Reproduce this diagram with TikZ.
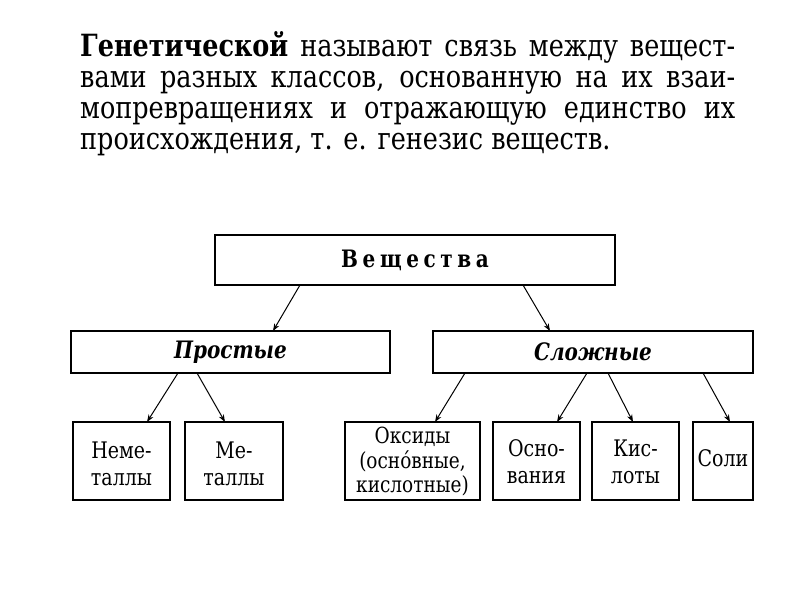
\documentclass[tikz,border=0pt]{standalone}
\usepackage{fontspec}
\setmainfont{DejaVu Serif}
\usetikzlibrary{calc,arrows.meta}
\newcommand\tallbox[2][0pt]{\raisebox{#1}[\height][\depth]{\scalebox{1}[1.2]{\begin{tabular}{@{}c@{}}#2\end{tabular}}}}
\newcommand\tallline[1]{\scalebox{1}[1.2]{#1}}
\begin{document}
\begin{tikzpicture}[x=1pt,y=-1pt,
  box/.style={draw,line width=1.6pt,inner sep=0pt,outer sep=0pt,align=center},
  small/.style={box,minimum height=78pt,font=\fontsize{19}{22.5}\selectfont},
  mid/.style={box,minimum height=42pt,font=\fontsize{20}{24}\bfseries\itshape},
  arr/.style={line width=1pt,-{Stealth[length=7.5pt,width=5.5pt]}},
  para/.style={anchor=base west,inner sep=0pt,font=\fontsize{25.5}{30}\selectfont}]
\useasboundingbox[fill=white] (0,0) rectangle (800,600);
% paragraph
\node[para] (l1) at (80,56) {\tallline{\makebox[655pt][s]{\textbf{Генетической} называют связь между вещест-}}};
\node[para] (l2) at (80,87) {\tallline{\makebox[655pt][s]{вами разных классов, основанную на их взаи-}}};
\node[para] (l3) at (80,118) {\tallline{\makebox[655pt][s]{мопревращениях и отражающую единство их}}};
\node[para] (l4) at (80,149) {\tallline{происхождения, т. е. генезис веществ.}};
% boxes
\node[box,minimum width=400pt,minimum height=50pt,font=\fontsize{20}{24}\bfseries] (vesh) at (415,260)
  {\tallline{В\hspace{4.6pt}е\hspace{4.6pt}щ\hspace{4.6pt}е\hspace{4.6pt}с\hspace{4.6pt}т\hspace{4.6pt}в\hspace{4.6pt}а}};
\node[mid,minimum width=319pt] (prost) at (230.5,352) {\tallline{Простые}};
\node[mid,minimum width=320pt] (slozh) at (593,352) {\tallline{Сложные}};
\node[small,minimum width=97pt] (neme) at (121.5,461) {\tallbox[-6pt]{Неме-\\таллы}};
\node[small,minimum width=98pt] (met) at (234,461) {\tallbox[-6pt]{Ме-\\таллы}};
\node[small,minimum width=135pt,font=\fontsize{18.5}{20.5}\selectfont] (oks) at (412.5,461) {\tallbox[-2pt]{Оксиды\\(оснóвные,\\кислотные)}};
\node[small,minimum width=87pt] (osn) at (536.5,461) {\tallbox[-4pt]{Осно-\\вания}};
\node[small,minimum width=87pt] (kis) at (635.5,461) {\tallbox[-4pt]{Кис-\\лоты}};
\node[small,minimum width=60pt] (soli) at (723,461) {\tallbox{Соли}};
% arrows
\draw[arr] ($(vesh.south west)+(85,0)$) -- ($(prost.north west)+(202,0)$);
\draw[arr] ($(vesh.south west)+(308,0)$) -- ($(slozh.north west)+(117,0)$);
\draw[arr] ($(prost.south west)+(107,0)$) -- ($(neme.north west)+(74,0)$);
\draw[arr] ($(prost.south west)+(126,0)$) -- ($(met.north west)+(40,0)$);
\draw[arr] ($(slozh.south west)+(32,0)$) -- ($(oks.north west)+(90,0)$);
\draw[arr] ($(slozh.south west)+(154,0)$) -- ($(osn.north west)+(64,0)$);
\draw[arr] ($(slozh.south west)+(175,0)$) -- ($(kis.north west)+(41,0)$);
\draw[arr] ($(slozh.south west)+(270,0)$) -- ($(soli.north west)+(37,0)$);
\end{tikzpicture}
\end{document}
